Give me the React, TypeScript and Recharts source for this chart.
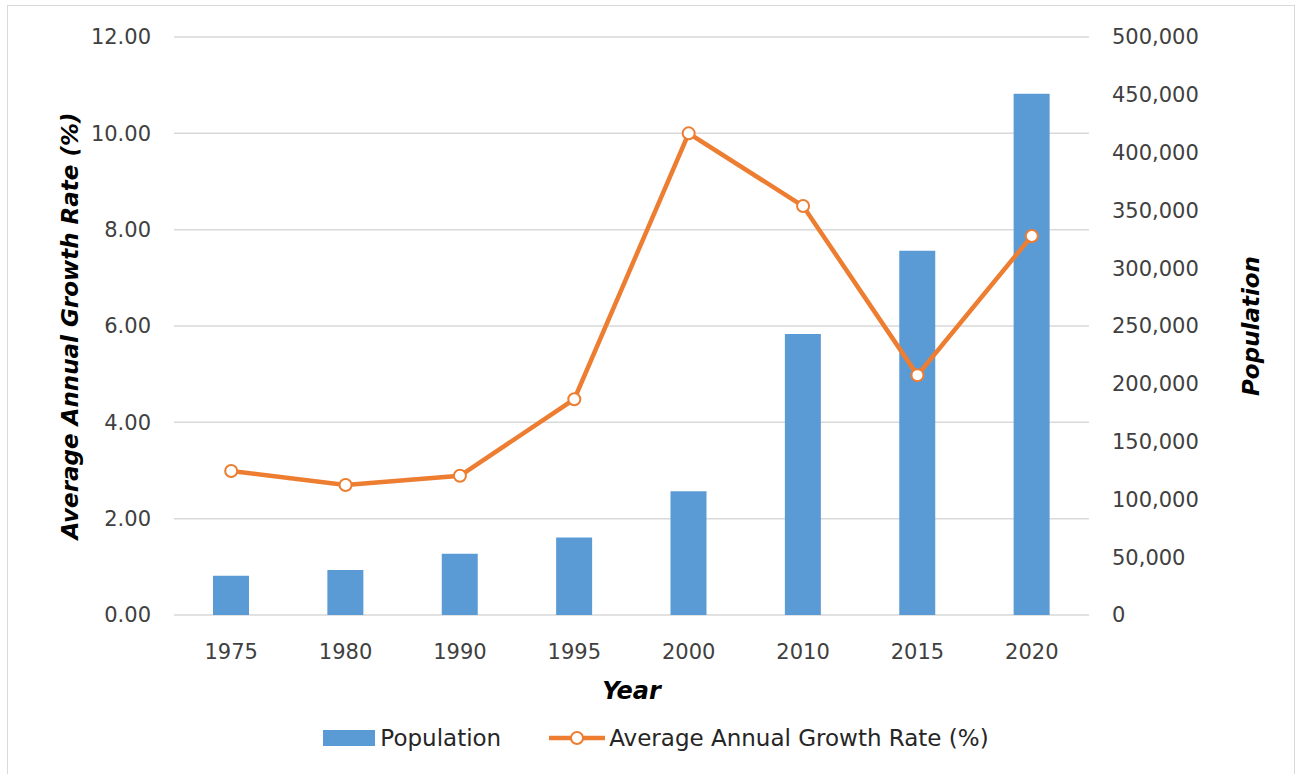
import * as React from "react";
import {
  ComposedChart,
  Bar,
  Line,
  XAxis,
  YAxis,
  CartesianGrid,
  Legend,
} from "recharts";

const years = ["1975", "1980", "1990", "1995", "2000", "2010", "2015", "2020"];
const population = [34000, 39000, 53000, 67000, 107000, 243000, 315000, 451000];
const growthRate = [2.99, 2.7, 2.89, 4.48, 10.0, 8.49, 4.98, 7.87];

const rateTicks = [0, 2, 4, 6, 8, 10, 12];
const popTicks = [0, 50000, 100000, 150000, 200000, 250000, 300000, 350000, 400000, 450000, 500000];

const data = years.map((year, i) => ({
  year,
  population: population[i],
  rate: growthRate[i],
}));

const barColor = "#5B9BD5";
const lineColor = "#ED7D31";
const font = "'DejaVu Sans', sans-serif";
const tickStyle = { fontSize: 21, fill: "#404040", fontFamily: font };
const titleStyle = {
  fontSize: 23,
  fontWeight: 700,
  fontStyle: "italic",
  fill: "#000",
  fontFamily: font,
  textAnchor: "middle" as const,
};

function LegendContent() {
  return (
    <div
      style={{
        display: "flex",
        justifyContent: "center",
        alignItems: "center",
        height: 30,
        fontFamily: font,
        fontSize: 23,
        color: "#262626",
        marginLeft: 10,
      }}
    >
      <span style={{ display: "inline-block", width: 52, height: 16, background: barColor, marginRight: 5 }} />
      <span style={{ marginRight: 48 }}>Population</span>
      <svg width={56} height={16} style={{ marginRight: 4 }}>
        <line x1={0} y1={8} x2={56} y2={8} stroke={lineColor} strokeWidth={4.5} />
        <circle cx={28} cy={8} r={6} fill="#fff" stroke={lineColor} strokeWidth={2} />
      </svg>
      <span>Average Annual Growth Rate (%)</span>
    </div>
  );
}

export default function App() {
  return (
    <div
      style={{
        position: "absolute",
        left: 7,
        top: 5,
        width: 1286,
        height: 780,
        border: "1px solid #d9d9d9",
        background: "#fff",
      }}
    >
      <ComposedChart
        width={1286}
        height={768}
        data={data}
        margin={{ top: 31, right: 0, left: 0, bottom: 21 }}
      >
        <CartesianGrid
          yAxisId="left"
          vertical={false}
          stroke="#d9d9d9"
          strokeWidth={1.5}
        />
        <XAxis
          dataKey="year"
          height={108}
          axisLine={false}
          tickLine={false}
          tickSize={0}
          tickMargin={29}
          tick={tickStyle}
          label={{
            value: "Year",
            position: "insideBottom",
            offset: 24,
            style: { ...titleStyle, fontSize: 24 },
          }}
        />
        <YAxis
          yAxisId="left"
          orientation="left"
          width={166}
          domain={[0, 12]}
          ticks={rateTicks}
          tickFormatter={(v: number) => v.toFixed(2)}
          axisLine={false}
          tickLine={false}
          tickSize={0}
          tickMargin={23}
          tick={tickStyle}
          label={{
            value: "Average Annual Growth Rate (%)",
            angle: -90,
            position: "insideLeft",
            offset: 62,
            style: titleStyle,
          }}
        />
        <YAxis
          yAxisId="right"
          orientation="right"
          width={205}
          domain={[0, 500000]}
          ticks={popTicks}
          tickFormatter={(v: number) => v.toLocaleString("en-US")}
          axisLine={false}
          tickLine={false}
          tickSize={0}
          tickMargin={23}
          tick={{ ...tickStyle, textAnchor: "start" }}
          label={{
            value: "Population",
            angle: -90,
            position: "insideRight",
            offset: 43,
            style: titleStyle,
          }}
        />
        <Legend verticalAlign="bottom" content={<LegendContent />} />
        <Bar
          yAxisId="right"
          dataKey="population"
          name="Population"
          fill={barColor}
          barSize={36}
          isAnimationActive={false}
        />
        <Line
          yAxisId="left"
          dataKey="rate"
          name="Average Annual Growth Rate (%)"
          stroke={lineColor}
          strokeWidth={4.5}
          dot={{ r: 6, fill: "#fff", stroke: lineColor, strokeWidth: 2 }}
          isAnimationActive={false}
        />
      </ComposedChart>
    </div>
  );
}
